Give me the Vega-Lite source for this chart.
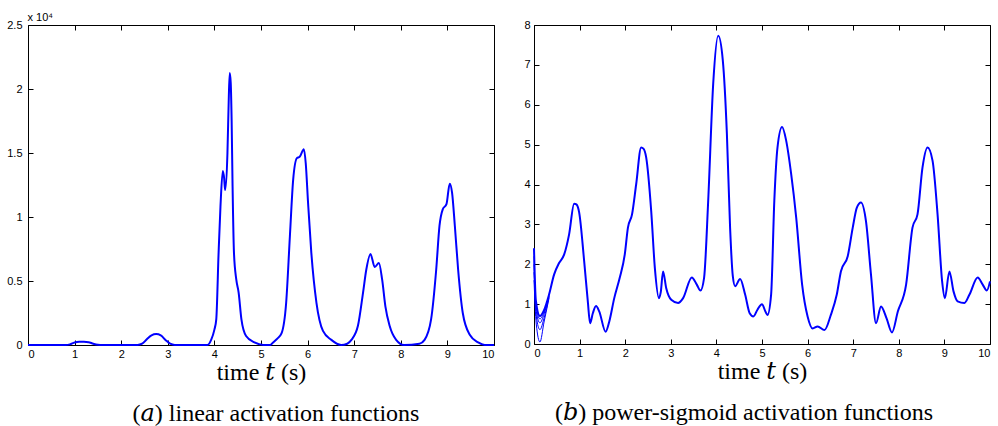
{
  "$schema": "https://vega.github.io/schema/vega-lite/v6.json",
  "background": "white",
  "padding": {"left": 6, "top": 10, "right": 5, "bottom": 0},
  "spacing": 24,
  "config": {
    "view": {"stroke": "black", "strokeWidth": 1},
    "axis": {
      "grid": false, "domain": false, "tickColor": "black", "tickSize": -5, "tickWidth": 1,
      "labelPadding": 8, "labelFont": "Liberation Sans", "labelFontSize": 11, "labelColor": "black",
      "titleFont": "Liberation Serif, DejaVu Serif", "titleFontSize": 24, "titleFontWeight": "normal", "titleColor": "black", "titlePadding": 1
    }
  },
  "datasets": {
    "left": [
      {"t": 0, "v": 0}, {"t": 0.8, "v": 0}, {"t": 0.9, "v": 50}, {"t": 1.0, "v": 200}, {"t": 1.1, "v": 250}, {"t": 1.2, "v": 250},
      {"t": 1.3, "v": 220}, {"t": 1.4, "v": 100}, {"t": 1.5, "v": 20}, {"t": 1.6, "v": 0}, {"t": 2.35, "v": 0}, {"t": 2.45, "v": 100},
      {"t": 2.55, "v": 450}, {"t": 2.65, "v": 750}, {"t": 2.75, "v": 850}, {"t": 2.85, "v": 750}, {"t": 2.95, "v": 400}, {"t": 3.05, "v": 100},
      {"t": 3.15, "v": 0}, {"t": 3.85, "v": 0}, {"t": 3.93, "v": 400}, {"t": 4.0, "v": 1200}, {"t": 4.04, "v": 2000}, {"t": 4.09, "v": 7200},
      {"t": 4.13, "v": 10800}, {"t": 4.18, "v": 13600}, {"t": 4.21, "v": 13000}, {"t": 4.23, "v": 12100}, {"t": 4.28, "v": 15000},
      {"t": 4.31, "v": 19500}, {"t": 4.33, "v": 21250}, {"t": 4.35, "v": 20500}, {"t": 4.37, "v": 17500}, {"t": 4.39, "v": 12400},
      {"t": 4.42, "v": 7200}, {"t": 4.47, "v": 5100}, {"t": 4.52, "v": 4100}, {"t": 4.58, "v": 2000}, {"t": 4.68, "v": 700},
      {"t": 4.86, "v": 200}, {"t": 5.05, "v": 0}, {"t": 5.2, "v": 0}, {"t": 5.26, "v": 200}, {"t": 5.35, "v": 500}, {"t": 5.44, "v": 900},
      {"t": 5.54, "v": 3300}, {"t": 5.62, "v": 8500}, {"t": 5.69, "v": 12900}, {"t": 5.77, "v": 14600}, {"t": 5.83, "v": 14700},
      {"t": 5.92, "v": 15300}, {"t": 5.96, "v": 14200}, {"t": 6.01, "v": 11100}, {"t": 6.08, "v": 7200}, {"t": 6.19, "v": 3300},
      {"t": 6.33, "v": 1100}, {"t": 6.51, "v": 400}, {"t": 6.72, "v": 0}, {"t": 6.85, "v": 100}, {"t": 6.94, "v": 400}, {"t": 7.08, "v": 1500},
      {"t": 7.19, "v": 4100}, {"t": 7.26, "v": 5900}, {"t": 7.35, "v": 7100}, {"t": 7.44, "v": 6100}, {"t": 7.53, "v": 6400},
      {"t": 7.6, "v": 5100}, {"t": 7.67, "v": 3000}, {"t": 7.76, "v": 1500}, {"t": 7.9, "v": 400}, {"t": 8.07, "v": 0}, {"t": 8.4, "v": 100},
      {"t": 8.51, "v": 400}, {"t": 8.65, "v": 2000}, {"t": 8.76, "v": 5900}, {"t": 8.83, "v": 9300}, {"t": 8.9, "v": 10600},
      {"t": 8.98, "v": 11000}, {"t": 9.05, "v": 12600}, {"t": 9.1, "v": 11900}, {"t": 9.16, "v": 9300}, {"t": 9.23, "v": 5900},
      {"t": 9.33, "v": 2500}, {"t": 9.48, "v": 800}, {"t": 9.66, "v": 200}, {"t": 9.8, "v": 0}, {"t": 10, "v": 0}
    ],
    "rmain": [
      {"t": 0, "v": 2.4}, {"t": 0.04, "v": 1.1}, {"t": 0.13, "v": 0.7}, {"t": 0.22, "v": 0.85}, {"t": 0.33, "v": 1.24}, {"t": 0.44, "v": 1.74},
      {"t": 0.55, "v": 2.03}, {"t": 0.66, "v": 2.24}, {"t": 0.77, "v": 2.75}, {"t": 0.88, "v": 3.52}, {"t": 0.93, "v": 3.5}, {"t": 0.99, "v": 3.3},
      {"t": 1.1, "v": 2.08}, {"t": 1.18, "v": 1.07}, {"t": 1.23, "v": 0.52}, {"t": 1.29, "v": 0.77}, {"t": 1.36, "v": 0.95}, {"t": 1.43, "v": 0.82},
      {"t": 1.57, "v": 0.31}, {"t": 1.65, "v": 0.56}, {"t": 1.76, "v": 1.15}, {"t": 1.88, "v": 1.66}, {"t": 1.99, "v": 2.24}, {"t": 2.06, "v": 2.92},
      {"t": 2.15, "v": 3.25}, {"t": 2.24, "v": 4.0}, {"t": 2.35, "v": 4.93}, {"t": 2.4, "v": 4.9}, {"t": 2.46, "v": 4.68}, {"t": 2.57, "v": 3.34},
      {"t": 2.65, "v": 1.91}, {"t": 2.74, "v": 1.15}, {"t": 2.78, "v": 1.3}, {"t": 2.83, "v": 1.82}, {"t": 2.9, "v": 1.4}, {"t": 3.01, "v": 1.11},
      {"t": 3.16, "v": 1.03}, {"t": 3.27, "v": 1.15}, {"t": 3.46, "v": 1.67}, {"t": 3.57, "v": 1.49}, {"t": 3.65, "v": 1.34}, {"t": 3.73, "v": 1.66},
      {"t": 3.82, "v": 3.59}, {"t": 3.93, "v": 6.53}, {"t": 4.04, "v": 7.73}, {"t": 4.14, "v": 7.12}, {"t": 4.23, "v": 5.27}, {"t": 4.3, "v": 2.92},
      {"t": 4.36, "v": 1.7}, {"t": 4.41, "v": 1.45}, {"t": 4.52, "v": 1.63}, {"t": 4.63, "v": 1.24}, {"t": 4.73, "v": 0.77}, {"t": 4.81, "v": 0.69},
      {"t": 4.9, "v": 0.86}, {"t": 5.0, "v": 1.0}, {"t": 5.08, "v": 0.8}, {"t": 5.12, "v": 0.73}, {"t": 5.2, "v": 1.24}, {"t": 5.27, "v": 3.59},
      {"t": 5.34, "v": 4.93}, {"t": 5.44, "v": 5.44}, {"t": 5.53, "v": 5.1}, {"t": 5.64, "v": 4.26}, {"t": 5.75, "v": 3.17}, {"t": 5.88, "v": 1.49},
      {"t": 6.0, "v": 0.69}, {"t": 6.11, "v": 0.39}, {"t": 6.22, "v": 0.44}, {"t": 6.37, "v": 0.35}, {"t": 6.51, "v": 0.73}, {"t": 6.64, "v": 1.24},
      {"t": 6.73, "v": 1.82}, {"t": 6.88, "v": 2.2}, {"t": 6.99, "v": 2.92}, {"t": 7.08, "v": 3.42}, {"t": 7.17, "v": 3.55}, {"t": 7.28, "v": 3.08},
      {"t": 7.39, "v": 1.74}, {"t": 7.5, "v": 0.52}, {"t": 7.61, "v": 0.94}, {"t": 7.73, "v": 0.65}, {"t": 7.85, "v": 0.29}, {"t": 7.98, "v": 0.82},
      {"t": 8.16, "v": 1.49}, {"t": 8.3, "v": 2.92}, {"t": 8.41, "v": 3.25}, {"t": 8.52, "v": 4.43}, {"t": 8.63, "v": 4.93}, {"t": 8.74, "v": 4.6},
      {"t": 8.85, "v": 3.25}, {"t": 8.95, "v": 1.57}, {"t": 9.01, "v": 1.15}, {"t": 9.11, "v": 1.82}, {"t": 9.2, "v": 1.32}, {"t": 9.29, "v": 1.07},
      {"t": 9.44, "v": 1.03}, {"t": 9.55, "v": 1.24}, {"t": 9.73, "v": 1.67}, {"t": 9.84, "v": 1.49}, {"t": 9.93, "v": 1.34}, {"t": 10, "v": 1.57}
    ],
    "rinit": [
      {"run": "b", "t": 0, "v": 2.2}, {"run": "b", "t": 0.04, "v": 1.0}, {"run": "b", "t": 0.13, "v": 0.63}, {"run": "b", "t": 0.22, "v": 0.8}, {"run": "b", "t": 0.33, "v": 1.22},
      {"run": "c", "t": 0, "v": 2.0}, {"run": "c", "t": 0.04, "v": 0.9}, {"run": "c", "t": 0.13, "v": 0.53}, {"run": "c", "t": 0.22, "v": 0.75}, {"run": "c", "t": 0.33, "v": 1.2},
      {"run": "d", "t": 0, "v": 1.8}, {"run": "d", "t": 0.05, "v": 0.7}, {"run": "d", "t": 0.13, "v": 0.36}, {"run": "d", "t": 0.22, "v": 0.65}, {"run": "d", "t": 0.33, "v": 1.18},
      {"run": "e", "t": 0, "v": 1.6}, {"run": "e", "t": 0.05, "v": 0.5}, {"run": "e", "t": 0.13, "v": 0.05}, {"run": "e", "t": 0.22, "v": 0.55}, {"run": "e", "t": 0.33, "v": 1.15}
    ]
  },
  "hconcat": [
    {
      "width": 466,
      "height": 320,
      "title": {"text": "(𝑎) linear activation functions", "orient": "bottom", "anchor": "middle", "font": "Liberation Serif, DejaVu Serif", "fontSize": 24, "fontWeight": "normal", "color": "black", "offset": 18, "dx": 15},
      "layer": [
        {
          "data": {"name": "left"},
          "mark": {"type": "line", "color": "#0000ff", "strokeWidth": 2, "interpolate": "monotone"},
          "encoding": {
            "x": {"field": "t", "type": "quantitative", "scale": {"domain": [0, 10], "nice": false},
                  "axis": {"values": [0, 1, 2, 3, 4, 5, 6, 7, 8, 9, 10], "title": "time 𝑡 (s)"}},
            "y": {"field": "v", "type": "quantitative", "scale": {"domain": [0, 25000], "nice": false},
                  "axis": {"values": [0, 5000, 10000, 15000, 20000, 25000], "labelExpr": "format(datum.value / 10000, '~g')", "labelPadding": 11,
                           "title": "x 10⁴", "titleAngle": 0, "titleAlign": "left", "titleBaseline": "alphabetic", "titleX": -1, "titleY": -5,
                           "titleFont": "Liberation Sans", "titleFontSize": 11}}
          }
        },
        {
          "data": {"name": "left"},
          "mark": {"type": "line", "opacity": 0},
          "encoding": {
            "x": {"field": "t", "type": "quantitative", "axis": {"orient": "top", "values": [0, 1, 2, 3, 4, 5, 6, 7, 8, 9, 10], "labels": false, "title": null}},
            "y": {"field": "v", "type": "quantitative", "axis": {"orient": "right", "values": [0, 5000, 10000, 15000, 20000, 25000], "labels": false, "title": null}}
          }
        }
      ],
      "resolve": {"axis": {"x": "independent", "y": "independent"}}
    },
    {
      "width": 456,
      "height": 319,
      "title": {"text": "(𝑏) power-sigmoid activation functions", "orient": "bottom", "anchor": "middle", "font": "Liberation Serif, DejaVu Serif", "fontSize": 24, "fontWeight": "normal", "color": "black", "offset": 18, "dx": -18},
      "layer": [
        {
          "data": {"name": "rinit"},
          "mark": {"type": "line", "color": "#0000ff", "strokeWidth": 1, "interpolate": "monotone"},
          "encoding": {
            "detail": {"field": "run"},
            "x": {"field": "t", "type": "quantitative", "scale": {"domain": [0, 10], "nice": false},
                  "axis": {"values": [0, 1, 2, 3, 4, 5, 6, 7, 8, 9, 10], "title": "time 𝑡 (s)"}},
            "y": {"field": "v", "type": "quantitative", "scale": {"domain": [0, 8], "nice": false},
                  "axis": {"values": [0, 1, 2, 3, 4, 5, 6, 7, 8], "labelPadding": 9, "title": null}}
          }
        },
        {
          "data": {"name": "rmain"},
          "mark": {"type": "line", "color": "#0000ff", "strokeWidth": 2, "interpolate": "monotone"},
          "encoding": {
            "x": {"field": "t", "type": "quantitative", "axis": {"orient": "top", "values": [0, 1, 2, 3, 4, 5, 6, 7, 8, 9, 10], "labels": false, "title": null}},
            "y": {"field": "v", "type": "quantitative", "axis": {"orient": "right", "values": [0, 1, 2, 3, 4, 5, 6, 7, 8], "labels": false, "title": null}}
          }
        }
      ],
      "resolve": {"axis": {"x": "independent", "y": "independent"}}
    }
  ]
}
